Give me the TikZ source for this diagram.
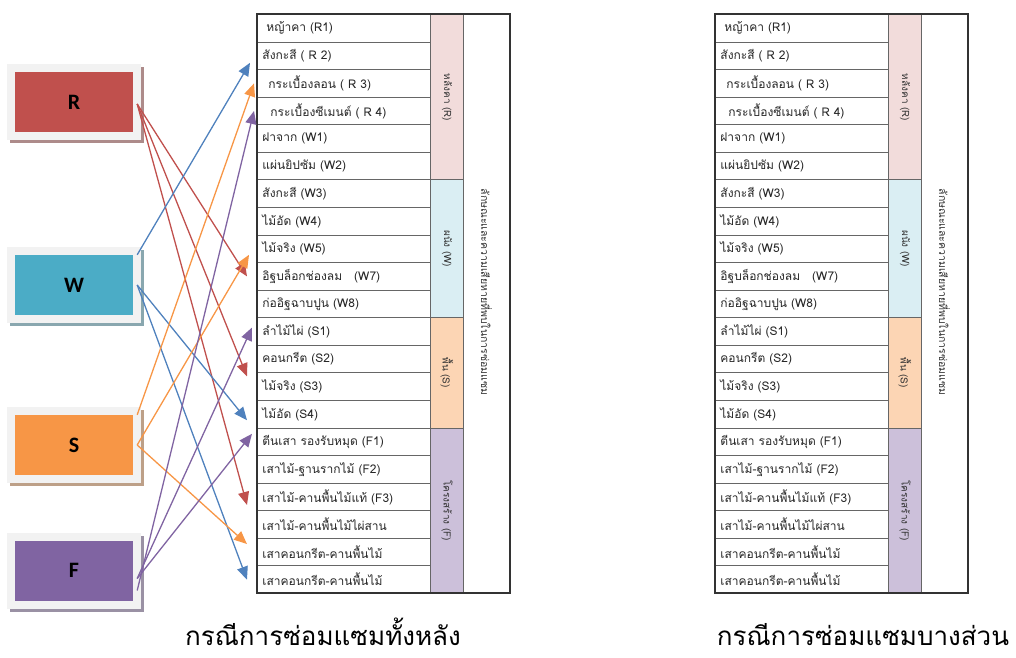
\documentclass[tikz,border=0pt]{standalone}
\usepackage{fontspec}
\setmainfont{Carlito}
\newfontfamily\thaifont[Script=Thai]{Loma}
\usetikzlibrary{arrows.meta, positioning, calc}
\definecolor{roofred}{RGB}{192,80,77}
\definecolor{wallblue}{RGB}{75,172,198}
\definecolor{floororange}{RGB}{247,150,70}
\definecolor{framepurple}{RGB}{128,100,162}
\definecolor{linkblue}{RGB}{79,129,189}
\definecolor{roofpink}{RGB}{242,220,219}
\definecolor{walllight}{RGB}{218,238,243}
\definecolor{floorlight}{RGB}{252,213,180}
\definecolor{framelight}{RGB}{204,192,218}
\tikzset{
  catbox/.style={minimum width=118pt, minimum height=60pt, inner sep=0pt,
    font=\bfseries\fontsize{22}{22}\selectfont, text=black},
  rowcell/.style={draw=black!60, line width=0.9pt, anchor=north west,
    minimum height=27.571pt, text width=163pt, inner xsep=5pt, inner ysep=0pt,
    align=left, font=\thaifont\fontsize{12}{13}\selectfont, text=black!85},
  catcell/.style={draw=black!60, line width=0.9pt, anchor=north west,
    minimum width=33pt, inner sep=0pt},
  catlabel/.style={rotate=-90, font=\thaifont\fontsize{10}{10}\selectfont, text=black!80},
  link/.style={line width=1.3pt, -{Triangle[length=13pt,width=11pt]}},
  caption/.style={font=\thaifont\fontsize{26}{28}\selectfont, anchor=base}
}
\begin{document}
\begin{tikzpicture}[x=1pt, y=-1pt]
  \useasboundingbox (0,0) rectangle (1016,657);
  % Group boxes with frame and shadow
  \foreach \name/\lbl/\col/\yc in {rbox/R/roofred/102, wbox/W/wallblue/285,
      sbox/S/floororange/445, fbox/F/framepurple/570.5} {
    \fill[black!5] (7,\yc-38) rectangle (141,\yc+38);
    \fill[\col!55!black!55] (141,\yc-35) rectangle (144,\yc+41);
    \fill[\col!55!black!55] (10,\yc+38) rectangle (144,\yc+41);
    \node[catbox, fill=\col] (\name) at (74,\yc) {\lbl};
  }
  % The two tables
  \foreach \tab/\x in {a/257, b/715} {
    \foreach \t [count=\i] in {\hspace{4pt}หญ้าคา (R1), สังกะสี ( R 2), \hspace{6pt}กระเบื้องลอน ( R 3),
        \hspace{8pt}กระเบื้องซีเมนต์ ( R 4), ฝาจาก (W1), แผ่นยิปซัม (W2), สังกะสี (W3),
        ไม้อัด (W4), ไม้จริง (W5), อิฐบล็อกช่องลม \ \ (W7), ก่ออิฐฉาบปูน (W8),
        ลำไม้ไผ่ (S1), คอนกรีต (S2), ไม้จริง (S3), ไม้อัด (S4),
        ตีนเสา รองรับหมุด (F1), เสาไม้-ฐานรากไม้ (F2), เสาไม้-คานพื้นไม้แท้ (F3),
        เสาไม้-คานพื้นไม้ไผ่สาน, เสาคอนกรีต-คานพื้นไม้, เสาคอนกรีต-คานพื้นไม้}
      \node[rowcell] (\tab\i) at (\x,{14+(\i-1)*27.571}) {\t};
    \foreach \cname/\ctext/\cfill/\ya/\yb in {R/หลังคา (R)/roofpink/0/6,
        W/ผนัง (W)/walllight/6/11, S/พื้น (S)/floorlight/11/15,
        F/โครงสร้าง (F)/framelight/15/21} {
      \node[catcell, fill=\cfill, minimum height={(\yb-\ya)*27.571pt}]
        (\tab cat\cname) at (\x+173,{14+\ya*27.571}) {};
      \node[catlabel] at (\tab cat\cname.center) {\ctext};
    }
    \node[catcell, minimum width=47pt, minimum height=579pt, fill=white]
      (\tab note) at (\x+206,14) {};
    \node[catlabel, font=\thaifont\fontsize{10.5}{10.5}\selectfont] at (\x+229.5,292)
      {ลักษณะและความเสียหายที่พบในการซ่อมแซม};
    \draw[line width=1.4pt, black!80] (\x,14) rectangle (\x+253,593);
  }
  % Connectors, whole-house case
  \draw[link, roofred] ([xshift=4pt,yshift=-2pt]rbox.east) -- ([xshift=-10pt]a10.west);
  \draw[link, roofred] ([xshift=4pt,yshift=-2pt]rbox.east) -- ([xshift=-10pt,yshift=-3pt]a13.south west);
  \draw[link, roofred] ([xshift=4pt,yshift=-2pt]rbox.east) -- ([xshift=-10pt,yshift=-8pt]a18.west);
  \draw[link, linkblue] ([xshift=4pt]wbox.north east) -- ([xshift=-7pt,yshift=-7pt]a2.west);
  \draw[link, linkblue] ([xshift=4pt]wbox.east) -- ([xshift=-10pt,yshift=-6pt]a15.west);
  \draw[link, linkblue] ([xshift=4pt]wbox.east) -- ([xshift=-10pt]a21.west);
  \draw[link, floororange] ([xshift=4pt]sbox.north east) -- ([xshift=-3pt]a3.west);
  \draw[link, floororange] ([xshift=4pt]sbox.east) -- ([xshift=-8pt,yshift=-6pt]a9.west);
  \draw[link, floororange] ([xshift=4pt]sbox.east) -- ([xshift=-10pt,yshift=8pt]a20.west);
  \draw[link, framepurple] ([xshift=4pt,yshift=-20pt]fbox.east) -- ([xshift=-3pt]a4.west);
  \draw[link, framepurple] ([xshift=4pt,yshift=-8pt]fbox.east) -- ([xshift=-5pt,yshift=4pt]a12.west);
  \draw[link, framepurple] ([xshift=4pt,yshift=-8pt]fbox.east) -- ([xshift=-5pt,yshift=8pt]a16.west);
  % Captions
  \node[caption] (capa) at (323,645) {กรณีการซ่อมแซมทั้งหลัง};
  \node[caption] (capb) at (863,645) {กรณีการซ่อมแซมบางส่วน};
\end{tikzpicture}
\end{document}
